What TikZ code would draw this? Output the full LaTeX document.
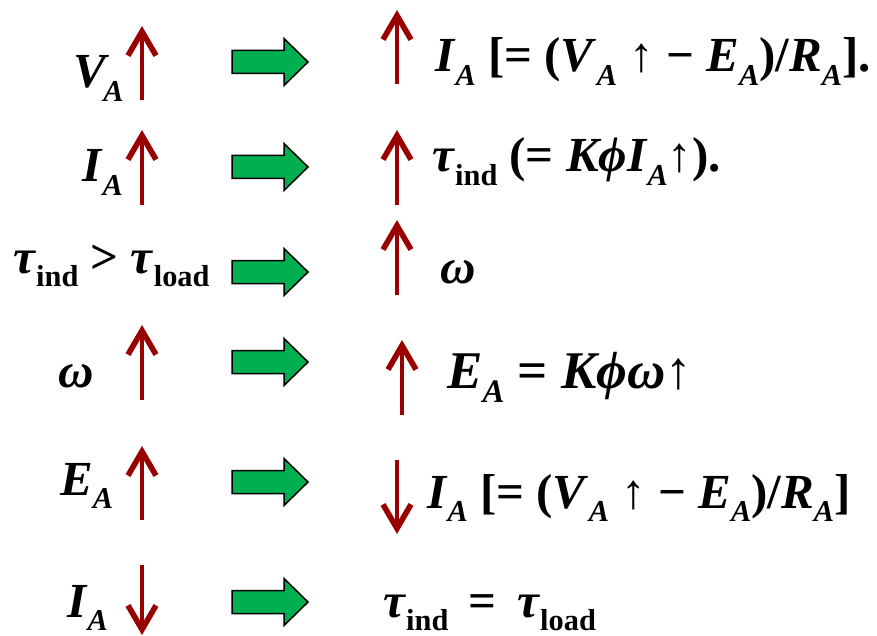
\documentclass[tikz,border=0pt]{standalone}
\usepackage{fontspec}
\setmainfont{Liberation Serif}
\usetikzlibrary{arrows.meta}
\definecolor{darkred}{RGB}{153,0,0}
\definecolor{ogreen}{RGB}{0,176,80}
\newcommand\Sb[1]{\raisebox{-0.28em}{\scalebox{0.62}{#1}}}
\newcommand\mi[1]{\textit{#1}}
\tikzset{
  redarr/.style={draw=darkred, line width=4pt, -{Straight Barb[length=24pt,width=28pt,line width=1.6pt 1]}},
  txt/.style={anchor=base west, inner sep=0pt, font=\fontsize{49}{52}\selectfont\bfseries},
  pics/garrow/.style={code={\draw[fill=ogreen, line width=1.5pt, line join=miter]
     (0,-11.5) -- (52,-11.5) -- (52,-23.5) -- (76,0) -- (52,23.5) -- (52,11.5) -- (0,11.5) -- cycle;}}
}
\begin{document}
\begin{tikzpicture}[x=1pt,y=-1pt]
\useasboundingbox (0,0) rectangle (877,636);
% left texts
\node[txt] (l1) at (73,88) {\mi{V}\kern-0.12em\Sb{\mi{A}}};
\node[txt] (l2) at (82,182) {\mi{I}\Sb{\mi{A}}};
\node[txt] (l3) at (13,273) {\mi{τ}\Sb{ind} > \mi{τ}\Sb{load}};
\node[txt] (l4) at (58,387) {\mi{ω}};
\node[txt] (l5) at (60,495) {\mi{E}\Sb{\mi{A}}};
\node[txt] (l6) at (67,617) {\mi{I}\Sb{\mi{A}}};
% left red arrows
\coordinate (a1s) at (142,100); \coordinate (a1e) at (142,26);
\coordinate (a2s) at (142,205); \coordinate (a2e) at (142,130);
\coordinate (a4s) at (142,400); \coordinate (a4e) at (142,325);
\coordinate (a5s) at (142,520); \coordinate (a5e) at (142,446);
\coordinate (a6s) at (142,565); \coordinate (a6e) at (142,635);
\draw[redarr] (a1s) -- (a1e);
\draw[redarr] (a2s) -- (a2e);
\draw[redarr] (a4s) -- (a4e);
\draw[redarr] (a5s) -- (a5e);
\draw[redarr] (a6s) -- (a6e);
% green arrows
\pic at (232,62) {garrow};
\pic at (232,167) {garrow};
\pic at (232,272) {garrow};
\pic at (232,362) {garrow};
\pic at (232,482) {garrow};
\pic at (232,602) {garrow};
% middle red arrows
\coordinate (b1s) at (397,84); \coordinate (b1e) at (397,10);
\coordinate (b2s) at (397,205); \coordinate (b2e) at (397,130);
\coordinate (b3s) at (397,295); \coordinate (b3e) at (397,220);
\coordinate (b4s) at (402,415); \coordinate (b4e) at (402,340);
\coordinate (b5s) at (397,460); \coordinate (b5e) at (397,534);
\draw[redarr] (b1s) -- (b1e);
\draw[redarr] (b2s) -- (b2e);
\draw[redarr] (b3s) -- (b3e);
\draw[redarr] (b4s) -- (b4e);
\draw[redarr] (b5s) -- (b5e);
% right texts
\node[txt] (r1) at (435,72) {\mi{I}\Sb{\mi{A}} [= (\mi{V}\Sb{\mi{A}} ↑ − \mi{E}\Sb{\mi{A}})/\mi{R}\Sb{\mi{A}}].};
\node[txt] (r2) at (432,172) {\mi{τ}\Sb{ind} (= \mi{Kϕ}\mi{I}\Sb{\mi{A}}↑).};
\node[txt] (r3) at (440,283) {\mi{ω}};
\node[txt, font=\fontsize{53}{56}\selectfont\bfseries] (r4) at (447,388) {\mi{E}\Sb{\mi{A}} = \mi{Kϕω}↑};
\node[txt] (r5) at (427,508) {\mi{I}\Sb{\mi{A}} [= (\mi{V}\Sb{\mi{A}} ↑ − \mi{E}\Sb{\mi{A}})/\mi{R}\Sb{\mi{A}}]};
\node[txt] (r6) at (383,617) {\mi{τ}\Sb{ind} \,=\, \mi{τ}\Sb{load}};
\end{tikzpicture}
\end{document}
